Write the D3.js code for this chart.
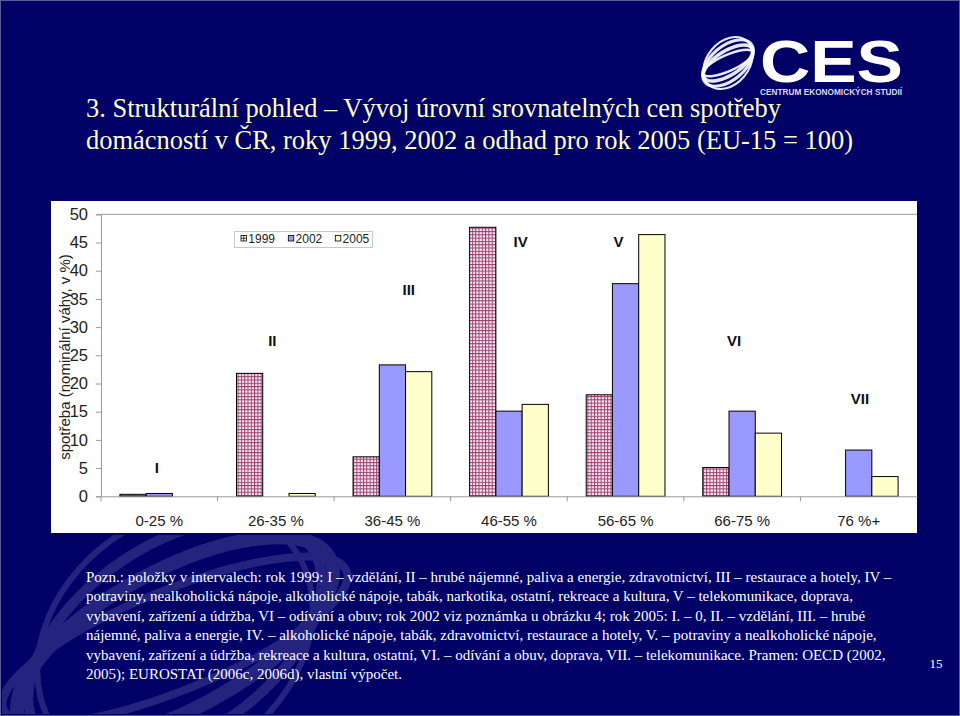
<!DOCTYPE html>
<html><head><meta charset="utf-8">
<script src="https://cdn.jsdelivr.net/npm/d3@7"></script>
<style>
html,body{margin:0;padding:0;background:#000066;}
svg{display:block;}
</style></head>
<body>
<script>
// ---- data ----
const categories = ["0-25 %","26-35 %","36-45 %","46-55 %","56-65 %","66-75 %","76 %+"];
const seriesNames = ["1999","2002","2005"];
const v1999 = [0.35, 21.8, 7.0, 47.7, 18.0, 5.1, 0];
const v2002 = [0.5, 0, 23.3, 15.1, 37.7, 15.1, 8.2];
const v2005 = [0, 0.5, 22.1, 16.3, 46.4, 11.2, 3.5];
const romanLabels = ["I","II","III","IV","V","VI","VII"];
const romanValues = [5.1, 27.7, 36.6, 45.1, 45.1, 27.7, 17.4];
const yTicks = [0,5,10,15,20,25,30,35,40,45,50];
const titleLines = ["3. Strukturální pohled – Vývoj úrovní srovnatelných cen spotřeby",
  "domácností v ČR, roky 1999, 2002 a odhad pro rok 2005 (EU-15 = 100)"];
const yLabel = "spotřeba (nominální váhy, v %)";
const noteLines = [
 "Pozn.: položky v intervalech: rok 1999: I – vzdělání, II – hrubé nájemné, paliva a energie, zdravotnictví, III – restaurace a hotely, IV –",
 "potraviny, nealkoholická nápoje, alkoholické nápoje, tabák, narkotika, ostatní, rekreace a kultura, V – telekomunikace, doprava,",
 "vybavení, zařízení a údržba, VI  – odívání a obuv; rok 2002 viz poznámka u obrázku 4; rok 2005: I. – 0, II. – vzdělání, III. – hrubé",
 "nájemné, paliva a energie, IV. – alkoholické nápoje, tabák, zdravotnictví, restaurace a hotely, V. – potraviny a nealkoholické nápoje,",
 "vybavení, zařízení a údržba, rekreace a kultura, ostatní, VI. – odívání a obuv, doprava, VII. – telekomunikace. Pramen: OECD (2002,",
 "2005); EUROSTAT (2006c, 2006d), vlastní výpočet."
];
const pageNumber = "15";

const W = 960, H = 716;
const svg = d3.select("body").append("svg").attr("width", W).attr("height", H);
const defs = svg.append("defs");

// background
svg.append("rect").attr("x",0).attr("y",0).attr("width",W).attr("height",H).attr("fill","#000066");
svg.append("rect").attr("x",0.5).attr("y",0.5).attr("width",W-1).attr("height",H-1)
  .attr("fill","none").attr("stroke","#5c5c9c").attr("stroke-width",1);

// watermark swirl bottom-left (clipped below chart)
defs.append("clipPath").attr("id","wmclip").append("rect").attr("x",2).attr("y",535).attr("width",420).attr("height",179);
const wm = svg.append("g").attr("clip-path","url(#wmclip)").attr("opacity",0.16);
[[-28,175,70,14],[-34,165,95,10],[-22,185,50,8],[-40,150,118,6]].forEach(([rot,rx,ry,sw])=>{
  wm.append("ellipse").attr("cx",175).attr("cy",640).attr("rx",rx).attr("ry",ry)
    .attr("transform",`rotate(${rot},175,640)`).attr("fill","none")
    .attr("stroke","#e0e0ff").attr("stroke-width",sw);
});

// logo
const logo = svg.append("g");
[[-32,28,12,3.5],[-40,30,17,3],[-24,27,8,2.5],[-50,29,21,2]].forEach(([rot,rx,ry,sw])=>{
  logo.append("ellipse").attr("cx",728).attr("cy",63).attr("rx",rx).attr("ry",ry)
    .attr("transform",`rotate(${rot},728,63)`).attr("fill","none")
    .attr("stroke","#ffffff").attr("stroke-width",sw).attr("opacity",0.9);
});
logo.append("text").attr("x",760).attr("y",82).attr("textLength",143).attr("lengthAdjust","spacingAndGlyphs")
  .attr("font-family","Liberation Sans, Arial, sans-serif").attr("font-weight","bold").attr("font-size",60)
  .attr("fill","#ffffff").text("CES");
logo.append("text").attr("x",760).attr("y",95).attr("textLength",142).attr("lengthAdjust","spacingAndGlyphs")
  .attr("font-family","Liberation Sans Narrow, Liberation Sans, Arial, sans-serif").attr("font-weight","bold").attr("font-size",9.5)
  .attr("fill","#d8d8f0").text("CENTRUM EKONOMICKÝCH STUDIÍ");

// title
const titleW = [695, 767];
svg.append("g").selectAll("text").data(titleLines).join("text")
  .attr("x",86).attr("y",(d,i)=>117+i*32)
  .attr("textLength",(d,i)=>titleW[i]).attr("lengthAdjust","spacingAndGlyphs")
  .attr("font-family","Liberation Serif, Times New Roman, serif").attr("font-size",26.5)
  .attr("fill","#ffffcc").text(d=>d);

// chart area
svg.append("rect").attr("x",51).attr("y",201).attr("width",866).attr("height",332).attr("fill","#ffffff");

const plot = {l:101, r:917, t:214.3, b:496.3};
const x0 = d3.scaleBand().domain(categories).range([plot.l, plot.r]).paddingInner(0).paddingOuter(0);
const x1 = d3.scaleBand().domain(seriesNames).range([0, x0.bandwidth()]).paddingInner(0).paddingOuter(0.72);
const y = d3.scaleLinear().domain([0,50]).range([plot.b, plot.t]);

// pattern for 1999
const pat = defs.append("pattern").attr("id","grid99").attr("patternUnits","userSpaceOnUse")
  .attr("width",3.3).attr("height",3.3);
pat.append("rect").attr("width",3.3).attr("height",3.3).attr("fill","#f8ecf3");
pat.append("path").attr("d","M0,0.5H3.3M0.5,0V3.3").attr("stroke","#9c3f72").attr("stroke-width",1);

const fills = {"1999":"url(#grid99)","2002":"#9999ff","2005":"#ffffcc"};
const seriesData = {"1999":v1999,"2002":v2002,"2005":v2005};

// plot frame top
svg.append("line").attr("x1",plot.l).attr("x2",plot.r).attr("y1",plot.t).attr("y2",plot.t).attr("stroke","#9a9a9a");

// bars
const gBars = svg.append("g");
seriesNames.forEach(s=>{
  gBars.append("g").selectAll("rect").data(categories.map((c,i)=>({c, v:seriesData[s][i]})).filter(d=>d.v>0))
    .join("rect")
    .attr("x",d=>x0(d.c)+x1(s)).attr("width",x1.bandwidth())
    .attr("y",d=>y(d.v)).attr("height",d=>y(0)-y(d.v))
    .attr("fill",fills[s]).attr("stroke","#000").attr("stroke-width",1);
});

// axes
const yAxis = svg.append("g").attr("transform",`translate(${plot.l},0)`)
  .call(d3.axisLeft(y).tickValues(yTicks).tickSize(5).tickPadding(8).tickFormat(d3.format("d")));
yAxis.selectAll("path,line").attr("stroke","#9a9a9a");
yAxis.selectAll("text").attr("font-family","Liberation Sans, Arial, sans-serif").attr("font-size",16.5).attr("fill","#222");

const xAxis = svg.append("g").attr("transform",`translate(0,${plot.b})`)
  .call(d3.axisBottom(x0).tickSize(0).tickPadding(19));
xAxis.select(".domain").attr("stroke","#9a9a9a");
xAxis.selectAll("text").attr("font-family","Liberation Sans, Arial, sans-serif").attr("font-size",15).attr("fill","#222");
// category separator ticks
svg.append("g").selectAll("line").data(categories).join("line")
  .attr("x1",d=>x0(d)).attr("x2",d=>x0(d)).attr("y1",plot.b).attr("y2",plot.b+5).attr("stroke","#9a9a9a");

// y label
svg.append("text").attr("transform",`translate(70,357) rotate(-90)`).attr("text-anchor","middle")
  .attr("font-family","Liberation Sans, Arial, sans-serif").attr("font-size",15).attr("fill","#222").text(yLabel);

// roman labels
const romanDx = [-0.02, -0.03, 0.14, 0.10, -0.06, -0.07, 0.01];
svg.append("g").selectAll("text").data(romanLabels).join("text")
  .attr("x",(d,i)=>x0(categories[i])+x0.bandwidth()*(0.5+romanDx[i]))
  .attr("y",(d,i)=>y(romanValues[i])+5.5).attr("text-anchor","middle")
  .attr("font-family","Liberation Sans, Arial, sans-serif").attr("font-weight","bold").attr("font-size",15)
  .attr("fill","#111").text(d=>d);

// legend
const lg = svg.append("g");
lg.append("rect").attr("x",234.5).attr("y",231.5).attr("width",138).attr("height",16)
  .attr("fill","#fff").attr("stroke","#c8c8c8");
const legX = [241, 288.3, 335.3];
seriesNames.forEach((s,i)=>{
  lg.append("rect").attr("x",legX[i]).attr("y",235.5).attr("width",5.5).attr("height",5.5)
    .attr("fill", s==="1999" ? "#fff" : fills[s]).attr("stroke","#000").attr("stroke-width",0.8);
  if(s==="1999"){
    lg.append("path").attr("d",`M${legX[i]},238.25h5.5M${legX[i]+2.75},235.5v5.5`).attr("stroke","#000").attr("stroke-width",0.7);
  }
  lg.append("text").attr("x",legX[i]+7.3).attr("y",243).attr("font-family","Liberation Sans, Arial, sans-serif")
    .attr("font-size",12).attr("fill","#222").text(s);
});

// notes
svg.append("g").selectAll("text").data(noteLines).join("text")
  .attr("x",86).attr("y",(d,i)=>582+i*19.4)
  .attr("font-family","Liberation Serif, Times New Roman, serif").attr("font-size",15)
  .attr("fill","#ffffff").text(d=>d);

svg.append("text").attr("x",936).attr("y",668).attr("text-anchor","middle")
  .attr("font-family","Liberation Serif, Times New Roman, serif").attr("font-size",13)
  .attr("fill","#ffffff").text(pageNumber);
</script>
</body></html>
